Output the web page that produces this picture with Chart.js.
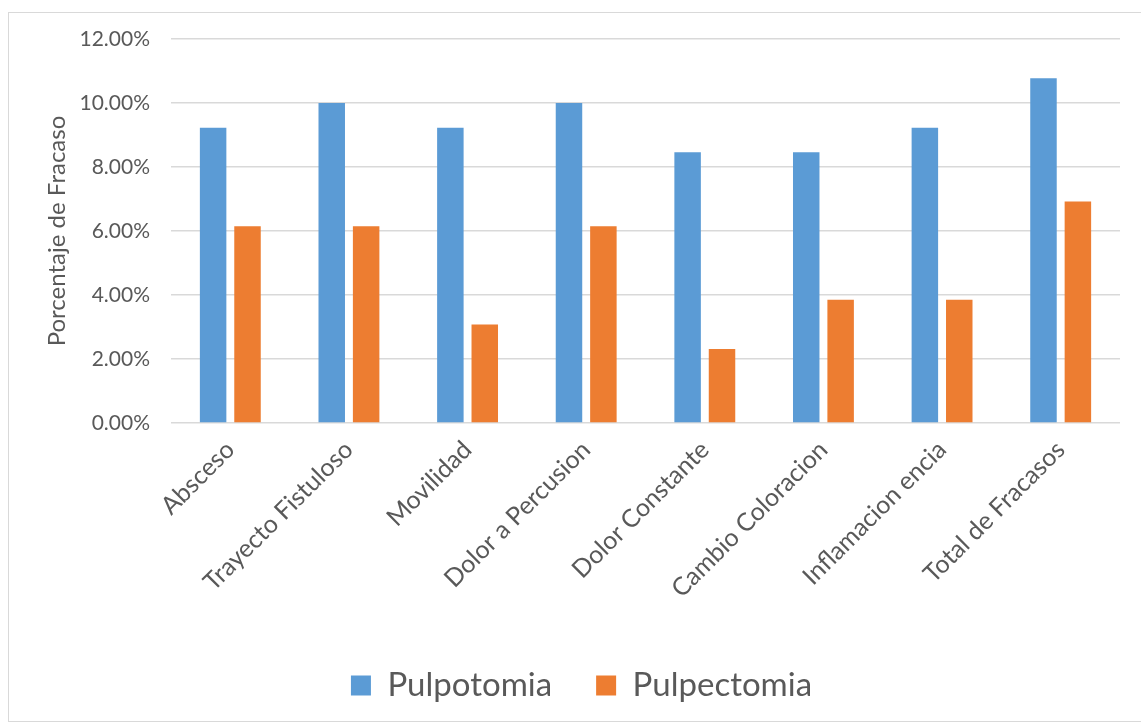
<!DOCTYPE html>
<html>
<head>
<meta charset="utf-8">
<script src="https://cdn.jsdelivr.net/npm/chart.js@4.4.0/dist/chart.umd.min.js"></script>
<style>
  html, body { margin: 0; padding: 0; background: #fff; }
  #frame { position: absolute; left: 8px; top: 12px; width: 1140px; height: 710px; border: 1px solid #d9d9d9; box-sizing: border-box; }
  #wrap { position: absolute; left: 0; top: 0; width: 1141px; height: 724px; }
</style>
</head>
<body>
<div id="frame"></div>
<div id="wrap"><canvas id="failChart"></canvas></div>
<script>
const categories = ['Absceso', 'Trayecto Fistuloso', 'Movilidad', 'Dolor a Percusion', 'Dolor Constante', 'Cambio Coloracion', 'Inflamacion encia', 'Total de Fracasos'];
const pulpotomia = [0.0923, 0.1000, 0.0923, 0.1000, 0.0846, 0.0846, 0.0923, 0.1077];
const pulpectomia = [0.0615, 0.0615, 0.0308, 0.0615, 0.0231, 0.0385, 0.0385, 0.0692];

const textColor = '#595959';
const gridColor = '#d9d9d9';
Chart.defaults.font.family = 'Lato, "Open Sans", sans-serif';

const ctx = document.getElementById('failChart').getContext('2d');
const failChart = new Chart(ctx, {
  type: 'bar',
  data: {
    labels: categories,
    datasets: [
      { label: 'Pulpotomia', data: pulpotomia, backgroundColor: '#5b9bd5' },
      { label: 'Pulpectomia', data: pulpectomia, backgroundColor: '#ed7d31' }
    ]
  },
  options: {
    responsive: true,
    maintainAspectRatio: false,
    animation: false,
    categoryPercentage: 0.58,
    barPercentage: 0.77,
    layout: { padding: { left: 43, right: 21, top: 39, bottom: 12 } },
    plugins: {
      legend: {
        position: 'bottom',
        labels: {
          color: textColor,
          font: { size: 33 },
          boxWidth: 20,
          boxHeight: 20,
          padding: 44
        }
      },
      tooltip: { enabled: false }
    },
    scales: {
      x: {
        grid: { display: false },
        border: { display: false },
        ticks: { color: textColor, font: { size: 25 }, maxRotation: 45, minRotation: 45, padding: 4 },
        afterFit: (axis) => { axis.height = 202; }
      },
      y: {
        min: 0,
        max: 0.12,
        ticks: {
          stepSize: 0.02,
          color: textColor,
          font: { size: 21 },
          padding: 21,
          callback: (v) => (v * 100).toFixed(2) + '%'
        },
        grid: { color: gridColor, lineWidth: 1.5, drawTicks: false },
        border: { display: false },
        title: { display: true, text: 'Porcentaje de Fracaso', color: textColor, font: { size: 24 }, padding: 0 },
        afterFit: (axis) => { axis.width = 128; }
      }
    }
  }
});
</script>
</body>
</html>
